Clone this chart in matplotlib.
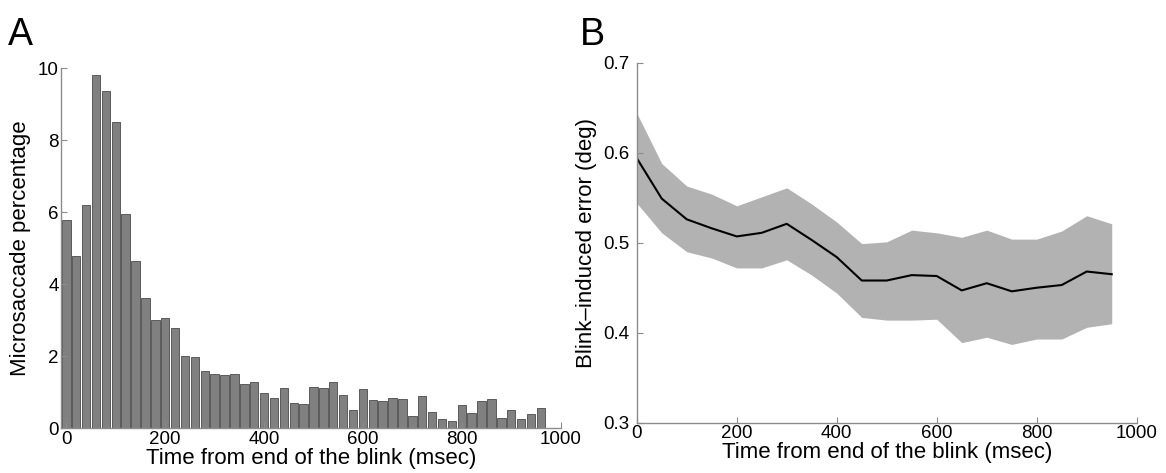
import numpy as np
import matplotlib
matplotlib.use("Agg")
import matplotlib.pyplot as plt

plt.rcParams['font.family'] = ['Liberation Sans', 'DejaVu Sans']

# panel A: microsaccade histogram, 20 msec bins
bin_centers = np.arange(0, 980, 20)
percentages = [5.79, 4.77, 6.19, 9.81, 9.37, 8.50, 5.94, 4.63, 3.61, 2.99,
               3.05, 2.78, 2.01, 1.98, 1.59, 1.50, 1.47, 1.50, 1.23, 1.27,
               0.98, 0.83, 1.10, 0.69, 0.67, 1.15, 1.12, 1.27, 0.91, 0.50,
               1.08, 0.78, 0.74, 0.83, 0.80, 0.32, 0.89, 0.45, 0.26, 0.20,
               0.64, 0.43, 0.74, 0.81, 0.28, 0.51, 0.26, 0.40, 0.56]

# panel B: blink-induced error with confidence band
times = np.arange(0, 1000, 50)
error_mean = [0.594, 0.549, 0.526, 0.516, 0.507, 0.511, 0.521, 0.503, 0.484, 0.458,
              0.458, 0.464, 0.463, 0.447, 0.455, 0.446, 0.450, 0.453, 0.468, 0.465]
error_upper = [0.644, 0.588, 0.563, 0.554, 0.541, 0.551, 0.561, 0.543, 0.523, 0.499,
               0.501, 0.514, 0.511, 0.506, 0.514, 0.504, 0.504, 0.513, 0.530, 0.521]
error_lower = [0.544, 0.511, 0.490, 0.483, 0.472, 0.472, 0.481, 0.464, 0.444, 0.417,
               0.414, 0.414, 0.415, 0.389, 0.395, 0.387, 0.393, 0.393, 0.406, 0.410]

spine_col = '#8c8c8c'
tick_size = 13.5
label_size = 16

fig = plt.figure(figsize=(11.66, 4.73), dpi=100)
ax1 = fig.add_axes([0.0527, 0.0951, 0.4281, 0.7611])
ax2 = fig.add_axes([0.5461, 0.1063, 0.4288, 0.7611])


def style_axis(ax):
    for side in ['top', 'right']:
        ax.spines[side].set_visible(False)
    for side in ['left', 'bottom']:
        ax.spines[side].set_color(spine_col)
        ax.spines[side].set_linewidth(1.0)
    ax.tick_params(direction='in', length=4, width=0.8, color=spine_col,
                   labelsize=tick_size, pad=2)


ax1.bar(bin_centers, percentages, width=17, color='#808080',
        edgecolor='#4a4a4a', linewidth=0.6)
ax1.set_xlim(-10, 1000)
ax1.set_ylim(0, 10)
ax1.set_xticks(range(0, 1001, 200))
ax1.set_yticks(range(0, 11, 2))
style_axis(ax1)
ax1.set_xlabel('Time from end of the blink (msec)', fontsize=label_size, labelpad=0)
ax1.set_ylabel('Microsaccade percentage', fontsize=label_size, labelpad=5)

ax2.fill_between(times, error_lower, error_upper, color='#b2b2b2', linewidth=0)
ax2.plot(times, error_mean, color='black', linewidth=1.5)
ax2.set_xlim(0, 1000)
ax2.set_ylim(0.3, 0.7)
ax2.set_xticks(range(0, 1001, 200))
ax2.set_yticks([0.3, 0.4, 0.5, 0.6, 0.7])
style_axis(ax2)
ax2.tick_params(axis='y', pad=5)
ax2.set_xlabel('Time from end of the blink (msec)', fontsize=label_size, labelpad=0)
ax2.set_ylabel('Blink\u2013induced error (deg)', fontsize=label_size, labelpad=5)

fig.text(0.007, 0.925, 'A', fontsize=27, va='center')
fig.text(0.497, 0.925, 'B', fontsize=27, va='center')

fig.savefig('out.png', dpi=100)
